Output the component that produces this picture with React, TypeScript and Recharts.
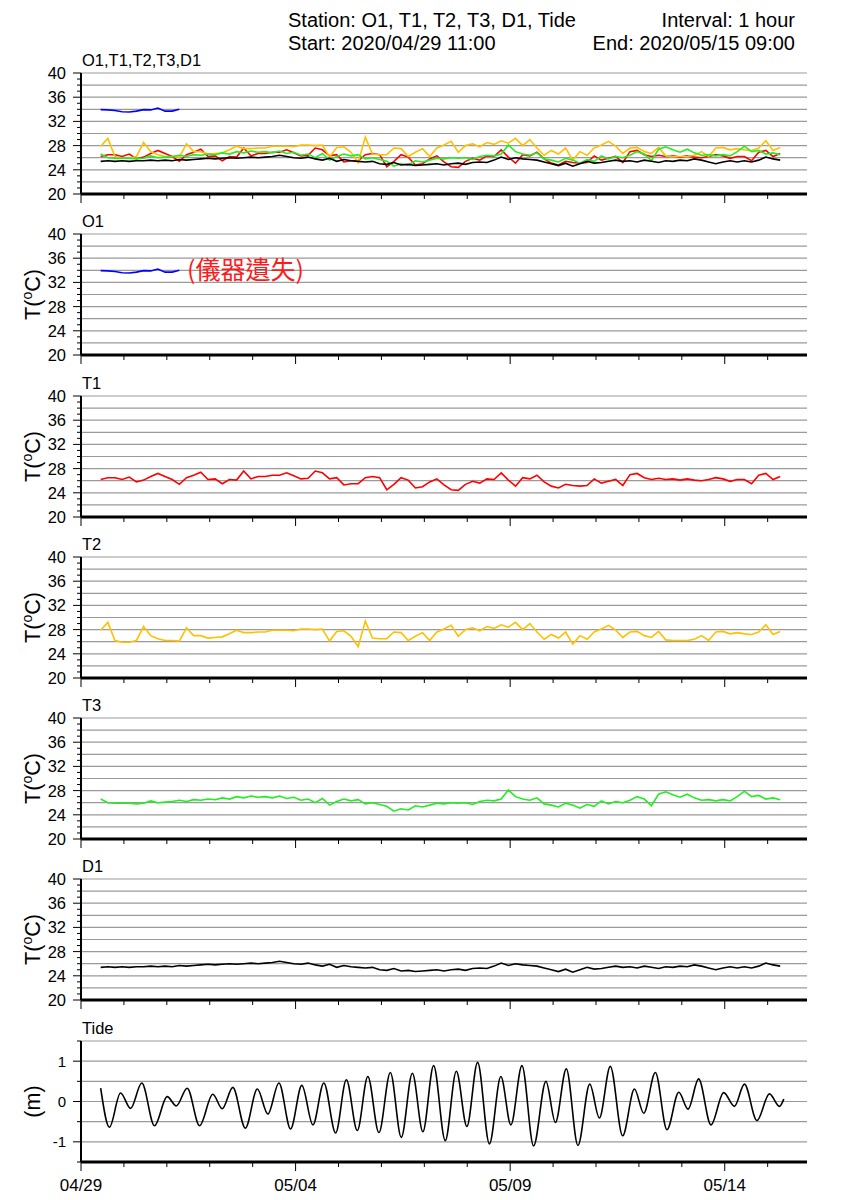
import React from 'react'
import { Line, LineChart, ReferenceLine, XAxis, YAxis } from 'recharts'

// Hourly station record, 2020/04/29 11:00 – 2020/05/15 09:00.
// Time axis is hours counted from 04/29 00:00; temperatures read every 4 h.
const FONT = '"Liberation Sans", Arial, Helvetica, sans-serif'
const CJK = '"Noto Sans CJK TC", "Noto Sans CJK SC", sans-serif'
const START_HOUR = 11
const STEP_HOURS = 4
const X_MAX = 406

const o1Temp = [33.95, 33.9, 33.8, 33.6, 33.55, 33.7, 33.95, 33.9, 34.2, 33.7, 33.7, 34.0]

const t1Temp = [
  26.2, 26.5, 26.5, 26.2, 26.6, 25.8, 26.1, 26.7, 27.2, 26.7,
  26.2, 25.4, 26.5, 26.9, 27.4, 26.2, 26.3, 25.5, 26.2, 26.1,
  27.6, 26.3, 26.7, 26.7, 26.9, 26.9, 27.3, 26.8, 26.3, 26.4,
  27.6, 27.3, 26.3, 26.5, 25.3, 25.5, 25.5, 26.5, 26.7, 26.5,
  24.5, 25.4, 26.5, 26.1, 24.8, 25.0, 25.8, 26.3, 25.3, 24.5,
  24.4, 25.4, 25.9, 25.6, 26.3, 26.2, 27.3, 26.1, 25.1, 26.5,
  26.3, 26.9, 25.8, 25.1, 24.8, 25.4, 25.2, 25.1, 25.2, 26.3,
  25.6, 25.9, 26.2, 25.2, 27.0, 27.2, 26.5, 26.2, 26.4, 26.2,
  26.3, 26.1, 26.3, 26.1, 26.0, 26.2, 26.5, 26.3, 25.9, 26.2,
  26.2, 25.5, 26.9, 27.2, 26.2, 26.7,
]

const t2Temp = [
  27.9, 29.2, 26.2, 25.9, 25.9, 26.2, 28.5, 27.0, 26.5, 26.2,
  26.2, 26.1, 28.3, 27.0, 27.0, 26.6, 26.7, 26.8, 27.3, 27.9,
  27.5, 27.5, 27.6, 27.6, 27.9, 27.9, 27.9, 27.8, 28.1, 28.1,
  28.0, 28.1, 26.1, 27.7, 27.8, 26.9, 25.2, 29.4, 26.6, 26.5,
  26.5, 27.6, 27.5, 26.2, 26.9, 27.5, 26.2, 27.6, 28.1, 28.7,
  26.9, 28.0, 28.3, 27.8, 28.5, 28.2, 28.8, 28.4, 29.2, 28.0,
  29.0, 27.6, 26.4, 27.2, 26.6, 27.6, 25.6, 27.0, 26.4, 27.6,
  28.1, 28.7, 27.9, 26.7, 27.6, 27.7, 27.0, 26.7, 27.7, 26.3,
  26.2, 26.2, 26.2, 26.4, 27.0, 26.2, 27.6, 27.7, 27.3, 27.5,
  27.3, 27.2, 27.6, 28.8, 27.2, 27.7,
]

const t3Temp = [
  26.6, 26.0, 25.9, 25.9, 25.9, 25.8, 25.9, 26.3, 26.0, 26.1,
  26.2, 26.4, 26.2, 26.5, 26.4, 26.6, 26.5, 26.8, 26.6, 27.0,
  26.8, 27.1, 26.9, 27.0, 26.8, 27.1, 26.7, 26.9, 26.4, 26.6,
  26.0, 26.7, 25.6, 26.2, 26.6, 26.3, 26.5, 25.8, 26.0, 25.7,
  25.4, 24.6, 25.0, 24.8, 25.5, 25.3, 25.6, 25.9, 25.8, 26.0,
  25.9, 26.0, 25.7, 26.2, 26.4, 26.3, 26.6, 28.1, 27.0, 26.6,
  26.4, 26.8, 25.8, 25.6, 25.3, 25.9, 25.6, 25.1, 25.7, 25.4,
  26.3, 25.8, 26.2, 26.0, 26.4, 27.0, 26.6, 25.5, 27.4, 27.8,
  27.3, 26.9, 27.4, 26.8, 26.4, 26.5, 26.3, 26.5, 26.3, 27.0,
  27.9, 27.0, 27.2, 26.6, 26.8, 26.5,
]

const d1Temp = [
  25.4, 25.5, 25.4, 25.5, 25.4, 25.5, 25.5, 25.6, 25.5, 25.6,
  25.5, 25.7, 25.6, 25.7, 25.8, 25.9, 25.8, 25.9, 26.0, 25.9,
  26.0, 26.1, 26.0, 26.1, 26.2, 26.4, 26.2, 26.0, 25.9, 26.1,
  25.8, 25.6, 25.9, 25.4, 25.7, 25.5, 25.4, 25.3, 25.4, 25.0,
  24.9, 25.2, 24.8, 24.9, 24.7, 24.8, 24.9, 25.0, 24.8, 25.0,
  25.1, 24.9, 25.2, 25.3, 25.2, 25.6, 26.1, 25.7, 26.0, 25.8,
  25.7, 25.6, 25.3, 25.0, 24.7, 25.1, 24.6, 25.0, 25.4, 25.1,
  25.2, 25.4, 25.6, 25.4, 25.5, 25.3, 25.6, 25.4, 25.2, 25.5,
  25.4, 25.6, 25.5, 25.8, 25.6, 25.3, 25.0, 25.3, 25.5, 25.3,
  25.5, 25.3, 25.6, 26.1, 25.8, 25.6,
]

// tide turning points (hour, metres)
const tideHours = [
  11, 15.9, 22.1, 27.7, 34.0, 41.1, 48.2, 53.3, 59.4, 66.3,
  73.7, 79.0, 84.9, 91.9, 98.6, 104.5, 110.7, 117.2, 123.5, 129.7,
  135.8, 142.4, 148.4, 154.5, 160.4, 166.6, 173.0, 179.1, 185.3, 191.2,
  197.2, 203.7, 209.9, 215.8, 221.8, 228.4, 234.8, 240.4, 246.6, 253.1,
  260.0, 265.3, 271.4, 277.9, 284.5, 289.9, 296.0, 302.9, 309.5, 314.7,
  321.2, 327.7, 334.3, 339.5, 345.4, 352.3, 359.4, 365.4, 371.0, 378.0,
  385.0, 390.6, 393,
]
const tideLevel = [
  0.33, -0.64, 0.21, -0.17, 0.46, -0.6, 0.12, -0.11, 0.33, -0.6,
  0.18, -0.18, 0.35, -0.66, 0.31, -0.31, 0.46, -0.68, 0.4, -0.58,
  0.46, -0.78, 0.54, -0.72, 0.62, -0.77, 0.72, -0.89, 0.7, -0.75,
  0.89, -0.97, 0.75, -0.62, 0.97, -1.05, 0.62, -0.58, 0.89, -1.1,
  0.5, -0.52, 0.81, -1.09, 0.43, -0.41, 0.87, -0.85, 0.31, -0.29,
  0.72, -0.7, 0.23, -0.19, 0.56, -0.58, 0.22, -0.12, 0.43, -0.47,
  0.19, -0.12, 0.06,
]

const dayTicks = [0, 24, 48, 72, 96, 120, 144, 168, 192, 216, 240, 264, 288, 312, 336, 360, 384]
const dateLabels: Record<number, string> = { 0: '04/29', 120: '05/04', 240: '05/09', 360: '05/14' }
const tempTicks = [20, 21, 22, 23, 24, 25, 26, 27, 28, 29, 30, 31, 32, 33, 34, 35, 36, 37, 38, 39, 40]
const tempGrid = [22, 24, 26, 28, 30, 32, 34, 36, 38, 40]
const tideTicks = [-1.5, -1, -0.5, 0, 0.5, 1, 1.5]
const tideGrid = [-1, -0.5, 0, 0.5, 1, 1.5]

const BLUE = '#0000ff'
const RED = '#ff0000'
const YELLOW = '#ffc000'
const GREEN = '#22ee22'
const BLACK = '#000000'
const GRID = '#9a9a9a'

const PLOT_H = 121
const TOP_PAD = 10
const X_AXIS_H = 40
const PANEL_TOPS = [73, 234, 396, 557, 718, 879, 1041]

type Row = { h: number; v: number }
const hourly = (vals: number[]): Row[] =>
  vals.map((v, i) => ({ h: START_HOUR + i * STEP_HOURS, v }))

const o1Rows = hourly(o1Temp)
const t1Rows = hourly(t1Temp)
const t2Rows = hourly(t2Temp)
const t3Rows = hourly(t3Temp)
const d1Rows = hourly(d1Temp)
const tideRows: Row[] = tideHours.map((h, i) => ({ h, v: tideLevel[i] }))

type Series = { rows: Row[]; color: string }

function DayTick(props: any) {
  const { x, y, payload, showLabel } = props
  const major = payload.value % 120 === 0
  return (
    <g>
      <line x1={x} x2={x} y1={y} y2={y + (major ? 9 : 5)} stroke="#000" strokeWidth={1} />
      {showLabel && major && (
        <text x={x} y={y + 29} textAnchor="middle" fontSize={17} fontFamily={FONT} fill="#000">
          {dateLabels[payload.value]}
        </text>
      )}
    </g>
  )
}

function ValueTick(props: any) {
  const { x, y, payload, majorEvery, fontSize } = props
  const v = payload.value
  const major = Math.abs(v / majorEvery - Math.round(v / majorEvery)) < 1e-6
  return (
    <g>
      <line x1={x - (major ? 8 : 4)} x2={x} y1={y} y2={y} stroke="#000" strokeWidth={1} />
      {major && (
        <text x={x - 15} y={y} dy="0.36em" textAnchor="end" fontSize={fontSize} fontFamily={FONT} fill="#000">
          {v}
        </text>
      )}
    </g>
  )
}

function Panel({
  top,
  series,
  domain,
  ticks,
  grid,
  majorEvery,
  tickFont,
  showDates,
  curve,
}: {
  top: number
  series: Series[]
  domain: [number, number]
  ticks: number[]
  grid: number[]
  majorEvery: number
  tickFont: number
  showDates?: boolean
  curve: 'linear' | 'monotone'
}) {
  const h = TOP_PAD + PLOT_H + X_AXIS_H
  return (
    <div style={{ position: 'absolute', left: 0, top: top - TOP_PAD, width: 848, height: h }}>
      <LineChart width={848} height={h} margin={{ top: TOP_PAD, right: 41, bottom: 0, left: 0 }}>
        <XAxis
          type="number"
          dataKey="h"
          domain={[0, X_MAX]}
          allowDataOverflow
          ticks={dayTicks}
          interval={0}
          height={X_AXIS_H}
          tickLine={false}
          tickSize={0}
          tickMargin={0}
          axisLine={{ stroke: '#000', strokeWidth: 3 }}
          tick={(p: any) => <DayTick {...p} showLabel={!!showDates} />}
        />
        <YAxis
          type="number"
          domain={domain}
          allowDataOverflow
          ticks={ticks}
          interval={0}
          width={81}
          tickLine={false}
          tickSize={0}
          tickMargin={0}
          axisLine={{ stroke: '#000', strokeWidth: 2 }}
          tick={(p: any) => <ValueTick {...p} majorEvery={majorEvery} fontSize={tickFont} />}
        />
        {grid.map((g) => (
          <ReferenceLine key={g} y={g} stroke={GRID} strokeWidth={1.2} />
        ))}
        {series.map((s, i) => (
          <Line
            key={i}
            data={s.rows}
            dataKey="v"
            type={curve}
            stroke={s.color}
            strokeWidth={1.6}
            dot={false}
            activeDot={false}
            isAnimationActive={false}
          />
        ))}
      </LineChart>
    </div>
  )
}

function RotatedTitle({ cy, children }: { cy: number; children: React.ReactNode }) {
  return (
    <text
      x={32}
      y={cy}
      transform={`rotate(-90, 32, ${cy})`}
      textAnchor="middle"
      dy="0.36em"
      fontSize={21.5}
      fontFamily={FONT}
      fill="#000"
    >
      {children}
    </text>
  )
}

const tempLabel = (
  <>
    T(<tspan fontSize={14} dy={-8}>o</tspan>
    <tspan dy={8}>C)</tspan>
  </>
)

export default function App() {
  const titles = ['O1,T1,T2,T3,D1', 'O1', 'T1', 'T2', 'T3', 'D1', 'Tide']
  const tempPanels: Series[][] = [
    [
      { rows: o1Rows, color: BLUE },
      { rows: t1Rows, color: RED },
      { rows: t2Rows, color: YELLOW },
      { rows: t3Rows, color: GREEN },
      { rows: d1Rows, color: BLACK },
    ],
    [{ rows: o1Rows, color: BLUE }],
    [{ rows: t1Rows, color: RED }],
    [{ rows: t2Rows, color: YELLOW }],
    [{ rows: t3Rows, color: GREEN }],
    [{ rows: d1Rows, color: BLACK }],
  ]

  return (
    <div style={{ position: 'absolute', left: 0, top: 0, width: 848, height: 1200, background: '#fff' }}>
      <svg width={848} height={1200} style={{ position: 'absolute', left: 0, top: 0 }}>
        <g fontFamily={FONT} fontSize={20} fill="#000">
          <text x={288} y={27}>Station: O1, T1, T2, T3, D1, Tide</text>
          <text x={288} y={50}>Start: 2020/04/29 11:00</text>
          <text x={795} y={27} textAnchor="end">Interval: 1 hour</text>
          <text x={795} y={50} textAnchor="end">End: 2020/05/15 09:00</text>
        </g>
        {titles.map((t, i) => (
          <text key={t} x={82} y={PANEL_TOPS[i] - 7} fontSize={16.5} fontFamily={FONT} fill="#000">
            {t}
          </text>
        ))}
        {PANEL_TOPS.slice(1, 6).map((t) => (
          <RotatedTitle key={t} cy={t + PLOT_H / 2}>
            {tempLabel}
          </RotatedTitle>
        ))}
        <RotatedTitle cy={PANEL_TOPS[6] + PLOT_H / 2}>(m)</RotatedTitle>
      </svg>
      {tempPanels.map((s, i) => (
        <Panel
          key={i}
          top={PANEL_TOPS[i]}
          series={s}
          domain={[20, 40]}
          ticks={tempTicks}
          grid={tempGrid}
          majorEvery={4}
          tickFont={16.5}
          curve="linear"
        />
      ))}
      <Panel
        top={PANEL_TOPS[6]}
        series={[{ rows: tideRows, color: BLACK }]}
        domain={[-1.5, 1.5]}
        ticks={tideTicks}
        grid={tideGrid}
        majorEvery={1}
        tickFont={15}
        showDates
        curve="monotone"
      />
      <svg width={848} height={300} style={{ position: 'absolute', left: 0, top: 0, pointerEvents: 'none' }}>
        <text x={187} y={270} dy="0.36em" fontSize={25} fontFamily={CJK} fill="#ff1a1a">
          (儀器遺失)
        </text>
      </svg>
    </div>
  )
}
